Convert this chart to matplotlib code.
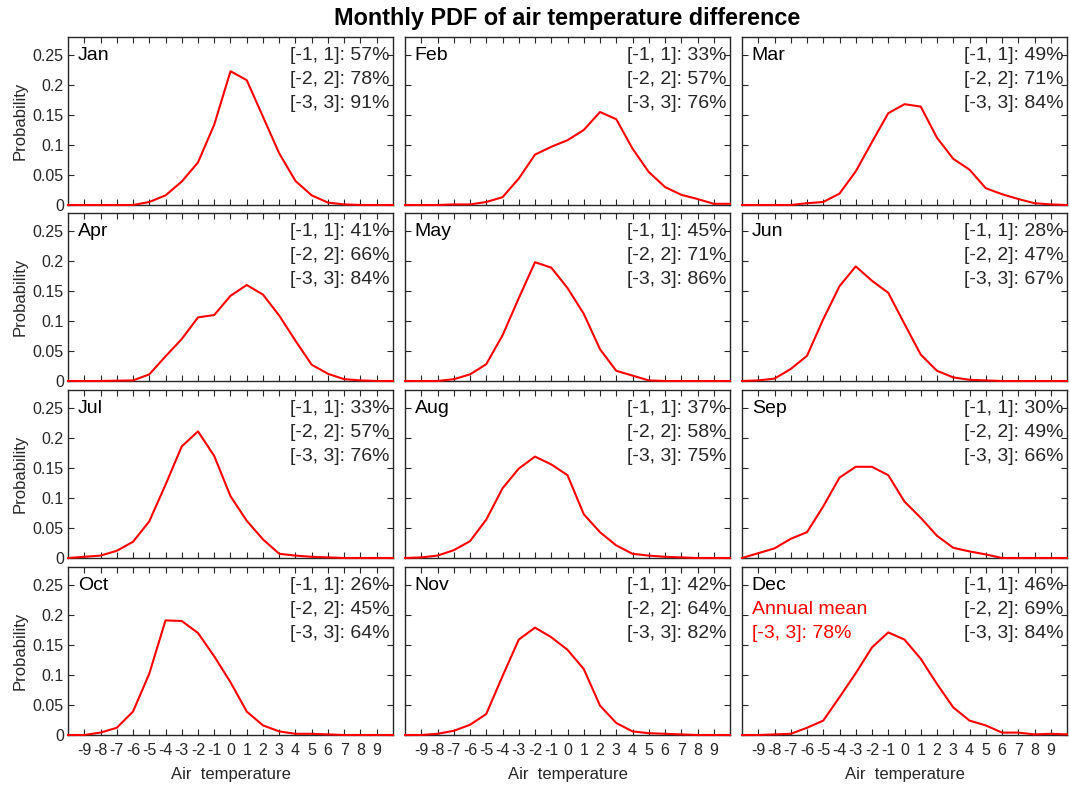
import numpy as np
import matplotlib
matplotlib.use("Agg")
import matplotlib.pyplot as plt

plt.rcParams['font.family'] = ['Liberation Sans', 'DejaVu Sans']

temp = np.arange(-10, 11)

months = ["Jan", "Feb", "Mar", "Apr", "May", "Jun",
          "Jul", "Aug", "Sep", "Oct", "Nov", "Dec"]

# probability at each integer temperature difference, -10 .. 10
jan = [0, 0, 0, 0, 0, 0.005, 0.016, 0.039, 0.071, 0.134, 0.223, 0.208, 0.147,
       0.086, 0.040, 0.016, 0.004, 0.001, 0, 0, 0]
feb = [0, 0, 0, 0.001, 0.001, 0.005, 0.013, 0.044, 0.084, 0.097, 0.108, 0.125, 0.155,
       0.143, 0.094, 0.055, 0.030, 0.017, 0.010, 0.002, 0.002]
mar = [0, 0, 0, 0, 0.003, 0.005, 0.019, 0.056, 0.105, 0.153, 0.168, 0.164, 0.112,
       0.077, 0.059, 0.028, 0.018, 0.010, 0.003, 0.001, 0]
apr = [0, 0, 0, 0.0005, 0.001, 0.011, 0.041, 0.070, 0.106, 0.110, 0.142, 0.160, 0.144,
       0.109, 0.067, 0.027, 0.012, 0.003, 0.001, 0, 0]
may = [0, 0, 0, 0.003, 0.011, 0.028, 0.076, 0.138, 0.198, 0.189, 0.155, 0.112, 0.053,
       0.017, 0.009, 0.001, 0, 0, 0, 0, 0]
jun = [0, 0.001, 0.004, 0.020, 0.042, 0.103, 0.158, 0.191, 0.167, 0.147, 0.095, 0.044, 0.017,
       0.006, 0.002, 0.001, 0, 0, 0, 0, 0]
jul = [0, 0.002, 0.004, 0.012, 0.027, 0.061, 0.122, 0.186, 0.211, 0.170, 0.103, 0.062, 0.031,
       0.007, 0.004, 0.002, 0.001, 0, 0, 0, 0]
aug = [0, 0.001, 0.004, 0.013, 0.028, 0.064, 0.116, 0.149, 0.169, 0.156, 0.138, 0.073, 0.043,
       0.021, 0.007, 0.004, 0.002, 0.001, 0, 0, 0]
sep = [0, 0.008, 0.016, 0.032, 0.043, 0.086, 0.134, 0.152, 0.152, 0.138, 0.094, 0.067, 0.037,
       0.017, 0.011, 0.006, 0, 0, 0, 0, 0]
oct_ = [0, 0, 0.004, 0.012, 0.039, 0.102, 0.191, 0.190, 0.170, 0.131, 0.088, 0.039, 0.016,
        0.006, 0.002, 0.002, 0.001, 0, 0, 0, 0]
nov = [0, 0, 0.002, 0.007, 0.017, 0.035, 0.098, 0.159, 0.179, 0.163, 0.142, 0.110, 0.049,
       0.020, 0.006, 0.003, 0.002, 0.001, 0, 0, 0]
dec = [0, 0, 0.001, 0.002, 0.012, 0.024, 0.063, 0.103, 0.146, 0.171, 0.159, 0.127, 0.085,
       0.046, 0.024, 0.016, 0.004, 0.004, 0.001, 0.002, 0.001]

pdfs = [jan, feb, mar, apr, may, jun, jul, aug, sep, oct_, nov, dec]

# share of values inside [-1,1], [-2,2], [-3,3] in percent
pct1 = [57, 33, 49, 41, 45, 28, 33, 37, 30, 26, 42, 46]
pct2 = [78, 57, 71, 66, 71, 47, 57, 58, 49, 45, 64, 69]
pct3 = [91, 76, 84, 84, 86, 67, 76, 75, 66, 64, 82, 84]
annual_pct3 = 78

yticks = [0, 0.05, 0.1, 0.15, 0.2, 0.25]
ytick_labels = ["0", "0.05", "0.1", "0.15", "0.2", "0.25"]
xticks = np.arange(-9, 10)

W, H = 1070, 785
fig = plt.figure(figsize=(W / 100, H / 100), dpi=100)

col_left = [68, 405, 742]
ax_w = 325
row_top = [37, 213, 390, 567]
ax_h = 168
edge = '#262626'
tsize = 14
step = 0.143

for i, m in enumerate(months):
    r, c = divmod(i, 3)
    ax = fig.add_axes([col_left[c] / W, 1 - (row_top[r] + ax_h) / H,
                       ax_w / W, ax_h / H])
    ax.plot(temp, pdfs[i], color='red', lw=1.5, clip_on=False, zorder=5)
    ax.set_xlim(-10, 10)
    ax.set_ylim(0, 0.28)
    ax.set_xticks(xticks)
    ax.set_yticks(yticks)
    ax.tick_params(direction='in', top=True, right=True, length=4,
                   width=0.8, colors=edge, labelsize=11.5, pad=3)
    ax.tick_params(axis='x', pad=6)
    for s in ax.spines.values():
        s.set_color(edge)
        s.set_linewidth(1.0)
    if c == 0:
        ax.set_yticklabels(ytick_labels)
        ax.set_ylabel("Probability", fontsize=12, color=edge, labelpad=4)
    else:
        ax.set_yticklabels([])
    if r == 3:
        ax.set_xticklabels([str(v) for v in xticks])
        ax.set_xlabel("Air  temperature", fontsize=12, color=edge, labelpad=6)
    else:
        ax.set_xticklabels([])

    ax.text(0.03, 0.89, m, transform=ax.transAxes, fontsize=tsize,
            ha='left', va='center', color='black')
    lines = ["[-1, 1]: %d%%" % pct1[i],
             "[-2, 2]: %d%%" % pct2[i],
             "[-3, 3]: %d%%" % pct3[i]]
    for k, t in enumerate(lines):
        ax.text(0.99, 0.89 - k * step, t, transform=ax.transAxes,
                fontsize=tsize, ha='right', va='center', color=edge)
    if m == "Dec":
        ax.text(0.03, 0.89 - step, "Annual mean", transform=ax.transAxes,
                fontsize=tsize, ha='left', va='center', color='red')
        ax.text(0.03, 0.89 - 2 * step, "[-3, 3]: %d%%" % annual_pct3,
                transform=ax.transAxes, fontsize=tsize, ha='left', va='center',
                color='red')

fig.text(567 / W, 1 - 18 / H, "Monthly PDF of air temperature difference",
         ha='center', va='center', fontsize=16.8, fontweight='bold')

fig.savefig("out.png", dpi=100, facecolor='white')
